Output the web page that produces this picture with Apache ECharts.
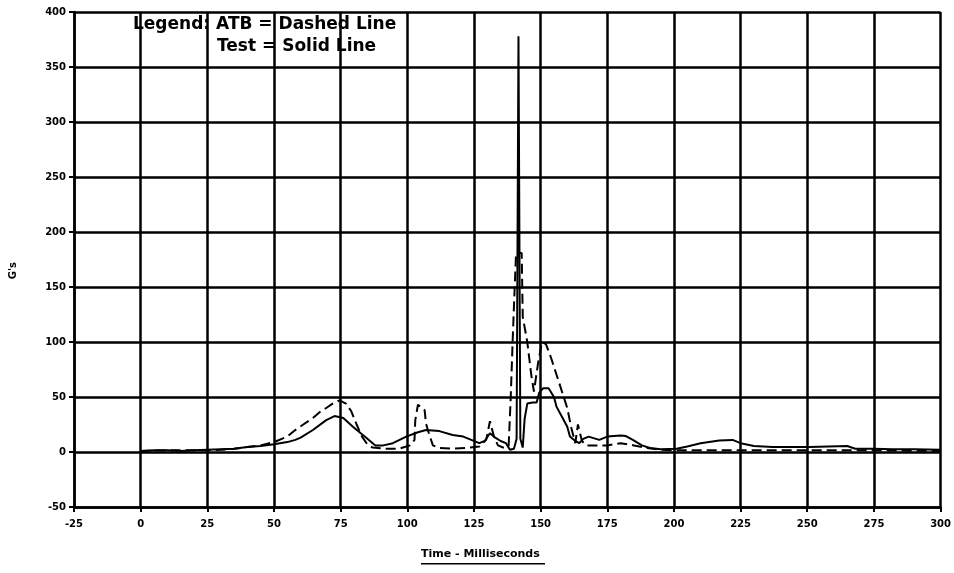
<!DOCTYPE html>
<html>
<head>
<meta charset="utf-8">
<script src="https://cdn.jsdelivr.net/npm/echarts@6/dist/echarts.min.js"></script>
<style>
html,body{margin:0;padding:0;background:#fff;}
#chart{width:954px;height:573px;}
</style>
</head>
<body>
<div id="chart"></div>
<script>
// ---- Data ----
const xTicksMin = -25, xTicksMax = 300, xStep = 25;
const yTicksMin = -50, yTicksMax = 400, yStep = 50;

// Test (solid line)
const testX = [0,5,10,15,20,25,30,35,40,45,50,55,58,60,64.6,69.6,72.7,76,79.6,84.6,88,91,94.6,99.6,104,107,112,117,121,124,127,129,131,133,135,137,138.5,140,141,141.7,142.4,143.3,144,145,147,148.5,149.5,151,153,155,156,158,160,161,163,164.5,166,168,172,175,180,182,184.6,188,191,195,201,205,210,217,222,225,230,237,245,251,258,265,268,275,282,290,300];
const testY = [1,1.5,1.5,1,1.5,2,2.5,3,4.5,5.5,7,9,11,13,20,29,32.7,31,23,13,6,6,8,14,18,20,19,15.5,14,11,8,10,17,13,10,8,2,3,12,378,12,4,30,44,45,45,54,58,58,50,41,32,23,14,10,8,12,14,11,14,15,14.5,11,6,3.6,2.5,3,5,8,10.5,11,8,5.5,4.5,4.5,4.5,5,5.5,3,3,2.5,2.5,2];

// ATB (dashed line)
const atbX = [0,10,20,25,30,35,40,45,50,55,58,61,64.6,67,69.6,72,74.6,77,79,81,83,85,87,92,97,101,102.7,103,104,104.6,106.5,107,107.7,109.6,112,117,122,127,129.6,131,132.5,134,136,138,138.8,139.5,140.2,140.8,142.9,143.3,145,146.5,147.5,149,150.5,152,154,156,158,160,161.5,163,164,165.5,167,170,175,180,185,190,195,200,225,250,275,300];
const atbY = [1,1.5,1.5,1.5,2,3,4.5,6,9,14,20,25,31,36,40,44,47,44,37,25,14,7,4,3,3,6,11,29,43,44.5,38,26,20,6,3.6,3,3.6,5,11,28,14,6,4,5,50,100,145,181,181,123,100,70,55,80,100,98,85,70,55,40,22,8,25,10,6,6,6,8,6,3.6,2,1.5,1.5,1.5,1.5,1];

const legendLine1 = "Legend: ATB = Dashed Line";
const legendLine2 = "Test = Solid Line";
const xTitle = "Time - Milliseconds";
const yTitle = "G's";

const zip = (xs, ys) => xs.map((x, i) => [x, ys[i]]);

const chart = echarts.init(document.getElementById('chart'), null, {renderer: 'canvas'});
const FONT = '"DejaVu Sans", Verdana, sans-serif';
const labelFont = {color: '#000', fontWeight: 'bold', fontSize: 10, fontFamily: FONT};

chart.setOption({
  backgroundColor: '#fff',
  animation: false,
  grid: {left: 74, right: 13, top: 12, bottom: 66, containLabel: false},
  xAxis: {
    type: 'value', min: xTicksMin, max: xTicksMax, interval: xStep,
    axisLine: {show: true, onZero: false, lineStyle: {color: '#000', width: 2.5}},
    axisTick: {show: true, length: 5, lineStyle: {color: '#000', width: 2}},
    axisLabel: Object.assign({margin: 12}, labelFont),
    splitLine: {show: true, lineStyle: {color: '#000', width: 2.5}}
  },
  yAxis: {
    type: 'value', min: yTicksMin, max: yTicksMax, interval: yStep,
    axisLine: {show: true, onZero: false, lineStyle: {color: '#000', width: 2.5}},
    axisTick: {show: true, length: 5, lineStyle: {color: '#000', width: 2}},
    axisLabel: Object.assign({margin: 8}, labelFont),
    splitLine: {show: true, lineStyle: {color: '#000', width: 2.5}}
  },
  series: [
    {
      name: 'Test', type: 'line', data: zip(testX, testY),
      showSymbol: false, symbol: 'none',
      lineStyle: {color: '#000', width: 2, type: 'solid'}, z: 3
    },
    {
      name: 'ATB', type: 'line', data: zip(atbX, atbY),
      showSymbol: false, symbol: 'none',
      lineStyle: {color: '#000', width: 2, type: [10, 5]}, z: 3
    }
  ],
  graphic: [
    {type: 'text', left: 133, top: 16, z: 10,
     style: {text: legendLine1, fill: '#000', font: 'bold 17px ' + FONT}},
    {type: 'text', left: 217, top: 38, z: 10,
     style: {text: legendLine2, fill: '#000', font: 'bold 17px ' + FONT}},
    {type: 'text', left: 421, top: 549, z: 10,
     style: {text: xTitle, fill: '#000', font: 'bold 11px ' + FONT}},
    {type: 'rect', left: 421, top: 563, z: 10, shape: {width: 124, height: 1.5}, style: {fill: '#000'}},
    {type: 'text', left: 8, top: 262, rotation: Math.PI / 2, z: 10,
     style: {text: yTitle, fill: '#000', font: 'bold 10px ' + FONT}}
  ]
});
</script>
</body>
</html>
